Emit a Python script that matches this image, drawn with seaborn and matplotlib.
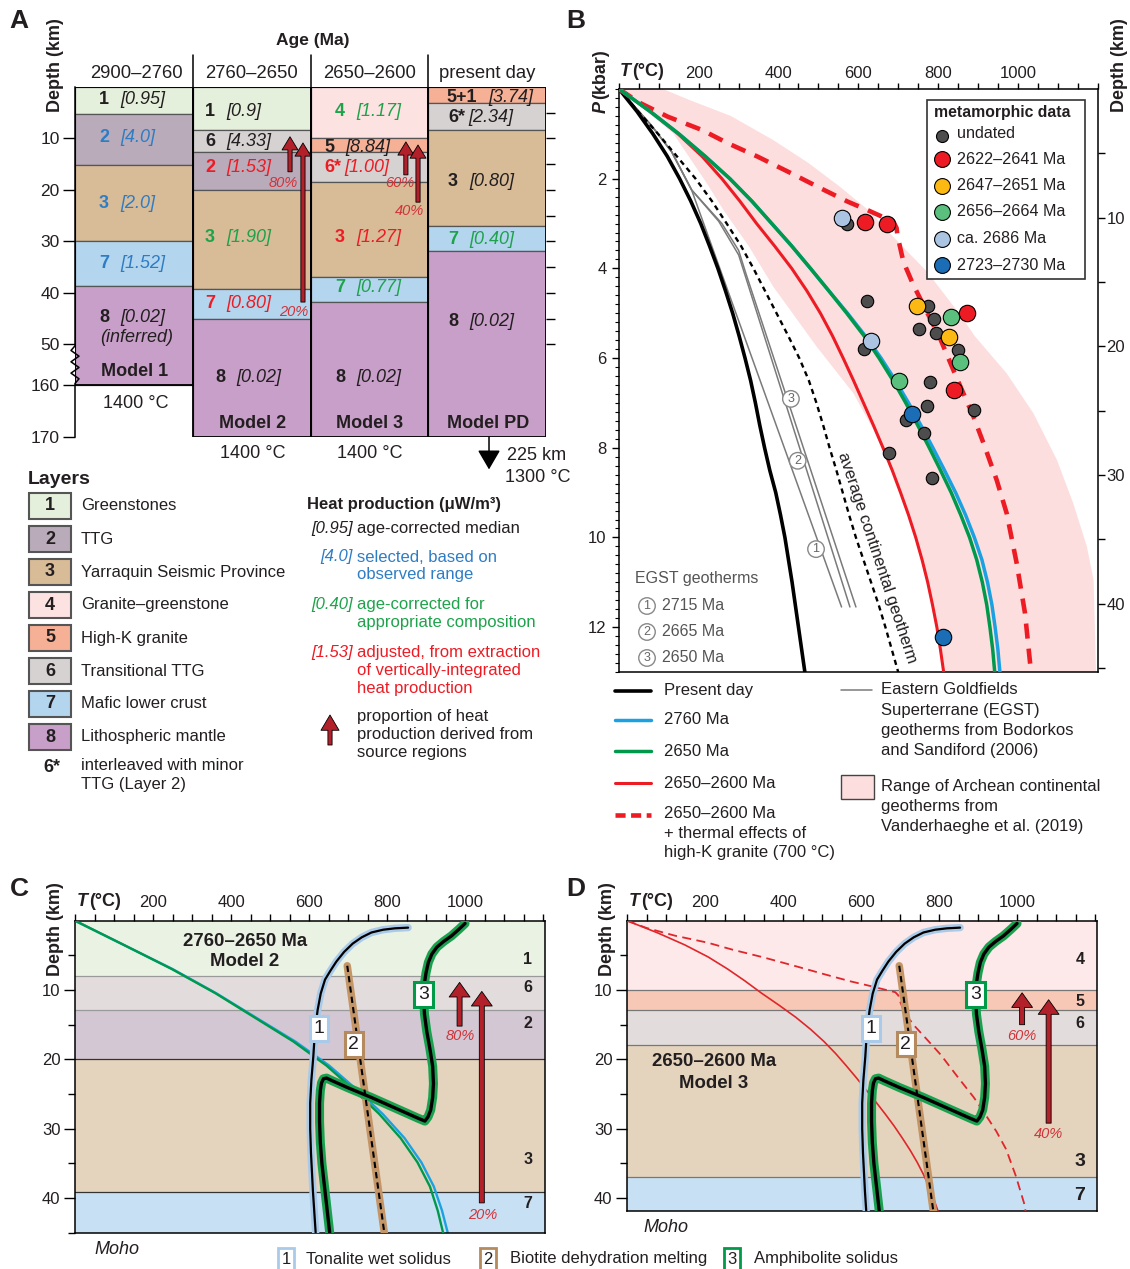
import numpy as np
import matplotlib
matplotlib.use('Agg')
import matplotlib.pyplot as plt
import matplotlib.ticker as mticker
from matplotlib.patches import Rectangle
import seaborn as sns

W, H = 1130, 1269

# ==========================================
# DATA - panel A : layer stacks (depth in km)
# ==========================================
ages = ['2900–2760', '2760–2650', '2650–2600', 'present day']
model_names = ['Model 1', 'Model 2', 'Model 3', 'Model PD']
base_temps = ['1400 °C', '1400 °C', '1400 °C']

# 58 and 68 stand for 160 and 170 km on the broken depth scale
m1_layers = [1, 2, 3, 7, 8]
m1_bottoms = [5.3, 15.2, 30.0, 38.6, 58.0]
m1_nums = ['1', '2', '3', '7', '8']
m1_heat = ['[0.95]', '[4.0]', '[2.0]', '[1.52]', '[0.02]']
m1_kind = ['med', 'sel', 'sel', 'sel', 'med']

m2_layers = [1, 6, 2, 3, 7, 8]
m2_bottoms = [8.45, 12.7, 20.0, 39.3, 45.1, 68.0]
m2_nums = ['1', '6', '2', '3', '7', '8']
m2_heat = ['[0.9]', '[4.33]', '[1.53]', '[1.90]', '[0.80]', '[0.02]']
m2_kind = ['med', 'med', 'adj', 'cor', 'adj', 'med']

m3_layers = [4, 5, 6, 3, 7, 8]
m3_bottoms = [10.0, 12.7, 18.5, 36.9, 41.8, 68.0]
m3_nums = ['4', '5', '6*', '3', '7', '8']
m3_heat = ['[1.17]', '[8.84]', '[1.00]', '[1.27]', '[0.77]', '[0.02]']
m3_kind = ['cor', 'med', 'adj', 'adj', 'cor', 'med']

pd_layers = [5, 6, 3, 7, 8]
pd_bottoms = [3.2, 8.45, 27.0, 31.9, 68.0]
pd_nums = ['5+1', '6*', '3', '7', '8']
pd_heat = ['[3.74]', '[2.34]', '[0.80]', '[0.40]', '[0.02]']
pd_kind = ['med', 'med', 'med', 'cor', 'med']

layer_ids = [1, 2, 3, 4, 5, 6, 7, 8]
layer_names = ['Greenstones', 'TTG', 'Yarraquin Seismic Province', 'Granite–greenstone',
               'High-K granite', 'Transitional TTG', 'Mafic lower crust', 'Lithospheric mantle']

# red arrows: column position, source depth, target depth (km)
arrowA_x = [1.826, 1.936, 2.81, 2.913]
arrowA_from = [16.5, 41.8, 17.1, 22.4]
arrowA_to = [9.7, 10.9, 10.7, 11.3]
arrow_pcts = ['80%', '20%', '60%', '40%']

# ==========================================
# DATA - panel B : geotherms (P in kbar, T in deg C)
# ==========================================
P_grid = [0, 0.5, 1, 1.5, 2, 2.5, 3, 3.5, 4, 4.5, 5, 5.5, 6, 6.5, 7, 7.5, 8, 8.5, 9, 9.5,
          10, 10.5, 11, 11.5, 12, 12.5, 13]
present_T = [0, 45, 85, 121, 152, 180, 205, 227, 248, 267, 285, 301, 316, 330, 342, 353, 365,
             378, 393, 405, 416, 425, 434, 442, 450, 458, 466]
g2760_T = [0, 78, 150, 216, 278, 333, 383, 433, 480, 526, 573, 617, 657, 693, 726, 757, 787,
           816, 844, 869, 891, 910, 924, 935, 943, 950, 955]
g2650_T = [0, 78, 150, 216, 278, 333, 383, 433, 480, 526, 571, 614, 652, 687, 719, 749, 778,
           806, 833, 857, 879, 897, 911, 922, 930, 937, 942]
g2600_T = [0, 78, 148, 208, 258, 303, 345, 390, 433, 471, 505, 535, 562, 588, 613, 638, 662,
           685, 706, 726, 744, 760, 774, 786, 797, 806, 814]
avg_T = [0, 48, 98, 145, 192, 233, 270, 306, 337, 366, 395, 424, 452, 476, 495, 512, 528,
         545, 561, 577, 594, 613, 632, 651, 668, 684, 700]

granite_P = [0, 0.3, 0.62, 0.91, 1.21, 1.51, 1.88, 2.22, 2.51, 2.70, 2.96, 3.1, 3.26,
             3.85, 4.37, 4.97, 5.56, 6.45, 7.31, 7.9, 8.72, 9.46, 10.57, 11.69, 13.0]
granite_T = [0, 50, 123, 207, 273, 348, 432, 507, 573, 623, 688, 696, 698,
             713, 738, 772, 805, 847, 889, 914, 947, 972, 997, 1018, 1033]

egst1_P = [0, 0.8, 1.4, 2.25, 11.55]
egst1_T = [0, 80, 132, 182, 558]
egst2_P = [0, 0.8, 1.4, 2.25, 2.95, 3.7, 11.55]
egst2_T = [0, 80, 132, 182, 250, 300, 579]
egst3_P = [0, 0.8, 1.4, 2.25, 3.0, 3.6, 4.11, 11.55]
egst3_T = [0, 80, 132, 182, 258, 300, 318, 594]
egst_ages = ['2715 Ma', '2665 Ma', '2650 Ma']

range_lo_P = [0, 0.99, 2.1, 2.7, 3.5, 4.41, 5.75, 6.79, 7.6, 8.5, 9.61, 10.95, 12, 13]
range_lo_T = [0, 136, 220, 262, 325, 387, 496, 588, 638, 685, 730, 770, 795, 812]
range_hi_P = [0, 0, 0.25, 0.6, 1.14, 1.65, 2.18, 2.7, 3.3, 4.07, 4.97, 5.52, 6.34, 7.23,
              8.27, 9.24, 10.2, 10.95, 13]
range_hi_T = [0, 110, 178, 280, 387, 475, 554, 625, 688, 772, 850, 893, 972, 1039,
              1098, 1139, 1173, 1190, 1196]

undated_T = [571, 621, 776, 790, 751, 795, 849, 614, 780, 891, 772, 720, 765, 677, 785]
undated_P = [3.02, 4.73, 4.83, 5.13, 5.35, 5.43, 5.83, 5.80, 6.53, 7.16, 7.07, 7.37, 7.66, 8.12, 8.68]
r2622_T = [617, 673, 872, 840]
r2622_P = [2.97, 3.02, 5.0, 6.71]
r2647_T = [747, 828]
r2647_P = [4.83, 5.54]
r2656_T = [832, 855, 703]
r2656_P = [5.09, 6.08, 6.51]
r2686_T = [558, 631]
r2686_P = [2.88, 5.63]
r2723_T = [734, 813]
r2723_P = [7.25, 12.21]
meta_labels = ['2622–2641 Ma', '2647–2651 Ma', '2656–2664 Ma', 'ca. 2686 Ma', '2723–2730 Ma']

KM_PER_KBAR = 3.485

# ==========================================
# DATA - panels C / D : layers, geotherms and melting curves (depth km)
# ==========================================
c_layers = [1, 6, 2, 3, 7]
c_bottoms = [7.97, 12.87, 19.97, 39.1, 45.0]
d_layers = [4, 5, 6, 3, 7]
d_bottoms = [10.0, 12.9, 17.9, 36.9, 41.9]

c2760_d = [0, 3.49, 6.97, 10.46, 13.94, 17.43, 20.91, 24.4, 27.88, 31.37, 34.85, 38.34, 41.82, 45.3]
c2760_T = [0, 125, 250, 362, 463, 565, 652, 723, 789, 845, 888, 920, 941, 957]
c2650_d = [0, 3.49, 6.97, 10.46, 13.94, 17.43, 20.91, 24.4, 27.88, 31.37, 34.85, 38.34, 41.82, 45.3]
c2650_T = [0, 125, 248, 360, 460, 560, 645, 715, 780, 835, 878, 910, 930, 945]

tonalite_T = [854, 820, 790, 760, 735, 712, 690, 670, 655, 641, 630, 622, 615, 611, 606, 603, 603, 605, 610, 617]
tonalite_d = [1.0, 1.1, 1.3, 1.7, 2.4, 3.3, 4.5, 5.9, 7.2, 8.5, 10.5, 12.9, 16.0, 19.6, 23.0, 26.3, 30.0, 33.5, 39.0, 45.0]
biotite_T = [698, 793]
biotite_d = [6.5, 45.0]
amph_T = [1000, 985, 965, 945, 928, 915, 906, 900, 896, 894, 896, 902, 910, 917, 919, 917, 912, 905, 897,
          880, 820, 760, 700, 660, 645, 637, 632, 629, 627, 627, 629, 633, 641, 653]
amph_d = [0.4, 1.2, 2.2, 3.0, 3.8, 4.8, 6.0, 7.5, 9.0, 11.0, 13.5, 16.0, 18.5, 21.0, 23.5, 25.5, 27.3, 28.3, 28.9,
          28.5, 27.0, 25.5, 24.1, 23.1, 22.7, 22.8, 23.4, 24.5, 26.3, 29.0, 32.0, 35.0, 39.0, 45.0]
solidus_names = ['Tonalite wet solidus', 'Biotite dehydration melting', 'Amphibolite solidus']

# ==========================================
# STYLE
# ==========================================
sns.set_theme(style='white')
plt.rcParams['font.family'] = ['Liberation Sans', 'DejaVu Sans']
plt.rcParams['text.color'] = '#231f20'
plt.rcParams['axes.edgecolor'] = 'black'
plt.rcParams['xtick.color'] = 'black'
plt.rcParams['ytick.color'] = 'black'
plt.rcParams['xtick.labelcolor'] = '#231f20'
plt.rcParams['ytick.labelcolor'] = '#231f20'

layer_colors = {1: '#e5f0dc', 2: '#b9abba', 3: '#d8bb97', 4: '#fde2e2',
                5: '#f6b096', 6: '#d7d2d2', 7: '#b3d5ee', 8: '#c89fc9'}
light_colors = {1: '#eaf2e4', 2: '#d3c7d3', 3: '#e4d4bd', 4: '#fde9e9',
                5: '#f8c8b6', 6: '#e2dddc', 7: '#c8e0f3'}
kind_colors = {'med': '#231f20', 'sel': '#2e7dc4', 'cor': '#1ea24b', 'adj': '#ec1c24'}
RED = '#ed1c24'
ARROW_RED = '#b2202a'
PCT_RED = '#d0343a'
BLUE_L = '#1ba1e2'
GREEN_L = '#00994c'

fig = plt.figure(figsize=(W / 100, H / 100), dpi=100)


def px_axes(x0, y0, x1, y1):
    return fig.add_axes([x0 / W, 1 - y1 / H, (x1 - x0) / W, (y1 - y0) / H])


ov = fig.add_axes([0, 0, 1, 1], zorder=20)
ov.set_xlim(0, W)
ov.set_ylim(H, 0)
ov.axis('off')


def txt(x, y, s, size=12, **kw):
    kw.setdefault('va', 'center')
    kw.setdefault('ha', 'left')
    ov.text(x, y, s, fontsize=size, **kw)


def red_arrow(ax, x, y0, y1, hw=1.15, hl=0.95, tw=0.3):
    ax.annotate('', xy=(x, y1), xytext=(x, y0), annotation_clip=False, zorder=8,
                arrowprops=dict(arrowstyle=f'simple,head_length={hl},head_width={hw},tail_width={tw}',
                                fc=ARROW_RED, ec='black', lw=0.6, shrinkA=0, shrinkB=0,
                                mutation_scale=10))


# panel letters
for lab, x, y in [('A', 19, 21), ('B', 576, 21), ('C', 19, 889), ('D', 576, 889)]:
    txt(x, y, lab, size=19, weight='bold', ha='center')

# ==========================================
# PANEL A
# ==========================================
axA = px_axes(75, 86.8, 546, 437)
axA.set_xlim(0, 4)
axA.set_ylim(68, 0)
for sp in axA.spines.values():
    sp.set_visible(False)
axA.set_xticks([])

stacks = [(m1_layers, m1_bottoms), (m2_layers, m2_bottoms),
          (m3_layers, m3_bottoms), (pd_layers, pd_bottoms)]
for i, (lay, bot) in enumerate(stacks):
    tops = [0] + bot[:-1]
    heights = np.array(bot) - np.array(tops)
    axA.bar(np.full(len(lay), i + 0.5), heights, bottom=tops, width=1.0,
            color=[layer_colors[k] for k in lay], edgecolor='#555555', linewidth=0.9, zorder=2)
    axA.bar(i + 0.5, bot[-1], bottom=0, width=1.0, fill=False,
            edgecolor='black', linewidth=1.3, zorder=3)

# broken left axis
zz_y = [0, 50.3, 51.2, 52.3, 53.4, 54.5, 55.6, 56.7, 57.6, 68]
zz_x = np.array([0, 0, -4, 4, -4, 4, -4, 4, 0, 0]) / 117.75
axA.plot(zz_x, zz_y, color='black', lw=1.1, clip_on=False, zorder=4)
axA.set_yticks([10, 20, 30, 40, 50, 58, 68])
axA.set_yticklabels(['10', '20', '30', '40', '50', '160', '170'])
axA.set_ylim(68, 0)
axA.tick_params(axis='y', left=True, direction='out', length=9, width=1, pad=2, labelsize=12.5)

axA2 = axA.twinx()
for sp in axA2.spines.values():
    sp.set_visible(False)
axA2.set_yticks([10, 20, 30, 40, 50])
axA2.set_yticks([5, 15, 25, 35, 45], minor=True)
axA2.set_yticklabels([])
axA2.set_ylim(68, 0)
axA2.tick_params(axis='y', which='both', right=True, direction='out', length=6.5, width=1)

for xs in [1, 2, 3]:
    axA.plot([xs, xs], [-6.2, 0], color='black', lw=1.1, clip_on=False)

# depth continues below present-day column
axA.annotate('', xy=(3.516, 74.3), xytext=(3.516, 68), annotation_clip=False,
             arrowprops=dict(arrowstyle='-|>,head_length=0.6,head_width=0.35', color='black',
                             lw=1.1, shrinkA=0, shrinkB=0, mutation_scale=20))

for x, y0, y1 in zip(arrowA_x, arrowA_from, arrowA_to):
    red_arrow(axA, x, y0, y1)

txt(313, 40, 'Age (Ma)', size=12.5, weight='bold', ha='center')
txt(55, 65, 'Depth (km)', size=13, weight='bold', ha='center', rotation=90)
for x, s in zip([136, 252, 370, 487], ages):
    txt(x, 73, s, size=13.3, ha='center')

lab_layout = [
    (m1_nums, m1_heat, m1_kind, [99] * 5, [100, 138, 203, 263, 317]),
    (m2_nums, m2_heat, m2_kind, [205] * 5 + [215], [112, 141, 167, 238, 303, 377]),
    (m3_nums, m3_heat, m3_kind, [335, 324, 324, 335, 335, 335], [112, 147, 167, 238, 288, 377]),
    (pd_nums, pd_heat, pd_kind, [446, 448, 448, 448, 448], [97, 118, 182, 239, 321]),
]
for nums, heat, kind, xs, ys in lab_layout:
    for n, h, k, x, y in zip(nums, heat, kind, xs, ys):
        col = kind_colors[k]
        txt(x, y, n, size=13, weight='bold', color=col)
        off = {'5+1': 42, '6*': 20}.get(n, 21)
        txt(x + off, y, h, size=13, style='italic', color=col)
txt(100, 338, '(inferred)', size=13, style='italic')
for x, y, s in zip([135, 253, 370, 488], [372, 424, 424, 424], model_names):
    txt(x, y, s, size=13, weight='bold', ha='center')
for x, y, s in zip([136, 253, 370], [403, 453, 453], base_temps):
    txt(x, y, s, size=13, ha='center')
txt(507, 455, '225 km', size=13)
txt(505, 477, '1300 °C', size=13)
for (x, y), s in zip([(283, 183), (294, 312), (400, 183), (410, 211)], arrow_pcts):
    txt(x, y, s, size=10.5, style='italic', color=PCT_RED, ha='center')

# layer legend
txt(28, 480, 'Layers', size=14, weight='bold')
for j, (lid, name) in enumerate(zip(layer_ids, layer_names)):
    yc = 506 + 33 * j
    ov.add_patch(Rectangle((29, yc - 13), 42, 26, fc=layer_colors[lid], ec='#555555', lw=1.5))
    txt(50, yc, str(lid), size=13, weight='bold', ha='center')
    txt(81, yc, name, size=12)
txt(52, 767, '6*', size=13, weight='bold', ha='center')
txt(81, 766, 'interleaved with minor', size=12)
txt(81, 785, 'TTG (Layer 2)', size=12)

# heat production legend
txt(307, 505, 'Heat production (μW/m³)', size=12, weight='bold')
hp_rows = [('[0.95]', 'med', ['age-corrected median'], 528),
           ('[4.0]', 'sel', ['selected, based on', 'observed range'], 557),
           ('[0.40]', 'cor', ['age-corrected for', 'appropriate composition'], 604),
           ('[1.53]', 'adj', ['adjusted, from extraction', 'of vertically-integrated', 'heat production'], 653)]
for br, k, lines, y in hp_rows:
    col = kind_colors[k]
    txt(353, y, br, size=12, style='italic', color=col, ha='right')
    for m, line in enumerate(lines):
        txt(357, y + 18 * m, line, size=12, color=col)
ov.annotate('', xy=(330, 715), xytext=(330, 745), annotation_clip=False,
            arrowprops=dict(arrowstyle='simple,head_length=1.1,head_width=1.3,tail_width=0.3',
                            fc=ARROW_RED, ec='black', lw=0.6, shrinkA=0, shrinkB=0, mutation_scale=10))
for m, line in enumerate(['proportion of heat', 'production derived from', 'source regions']):
    txt(357, 716 + 18 * m, line, size=12)

# ==========================================
# PANEL B
# ==========================================
axB = px_axes(619, 89, 1098, 672)
axB.fill(np.r_[range_lo_T, range_hi_T[::-1]], np.r_[range_lo_P, range_hi_P[::-1]],
         color='#fddede', lw=0, zorder=1)
for tt, pp in [(egst1_T, egst1_P), (egst2_T, egst2_P), (egst3_T, egst3_P)]:
    axB.plot(tt, pp, color='#7a7a7a', lw=1.1, zorder=2)
axB.plot(avg_T, P_grid, color='black', lw=1.7, linestyle=(0, (2.2, 1.8)), zorder=3)
sns.lineplot(x=present_T, y=P_grid, ax=axB, color='black', lw=2.6, sort=False, estimator=None, zorder=3)
axB.plot(granite_T, granite_P, color=RED, lw=3.3, linestyle=(0, (3.3, 2.2)), zorder=3)
sns.lineplot(x=g2600_T, y=P_grid, ax=axB, color=RED, lw=2.2, sort=False, estimator=None, zorder=3)
sns.lineplot(x=g2760_T, y=P_grid, ax=axB, color=BLUE_L, lw=2.5, sort=False, estimator=None, zorder=3)
sns.lineplot(x=g2650_T, y=P_grid, ax=axB, color=GREEN_L, lw=2.5, sort=False, estimator=None, zorder=4)

sns.scatterplot(x=undated_T, y=undated_P, ax=axB, s=80, color='#4d4d4d', edgecolor='black',
                linewidth=0.8, zorder=5, legend=False)
meta_sets = [(r2622_T, r2622_P, '#ed1c24'), (r2647_T, r2647_P, '#fdb913'),
             (r2656_T, r2656_P, '#5bbf7d'), (r2686_T, r2686_P, '#aac4e2'),
             (r2723_T, r2723_P, '#1b6db5')]
for tt, pp, c in meta_sets:
    sns.scatterplot(x=tt, y=pp, ax=axB, s=140, color=c, edgecolor='black',
                    linewidth=0.8, zorder=6, legend=False)

for s, (tx, px) in zip(['3', '2', '1'], [(431, 6.91), (448, 8.29), (494, 10.26)]):
    axB.text(tx, px, s, fontsize=9, color='#666666', ha='center', va='center', zorder=7,
             bbox=dict(boxstyle='circle,pad=0.18', fc='white', ec='#888888', lw=1))
axB.text(647, 10.46, 'average continental geotherm', fontsize=12, rotation=-71.6,
         rotation_mode='anchor', ha='center', va='center', zorder=7)

axB.set_xlabel('')
axB.set_ylabel('')
for sp in axB.spines.values():
    sp.set_linewidth(1.1)
axB.xaxis.set_ticks_position('top')
axB.set_xticks([200, 400, 600, 800, 1000])
axB.xaxis.set_minor_locator(mticker.MultipleLocator(50))
axB.tick_params(axis='x', which='both', top=True, bottom=False, labeltop=True, labelbottom=False,
                direction='out', length=4, width=1, pad=2, labelsize=12)
axB.set_yticks([2, 4, 6, 8, 10, 12])
axB.yaxis.set_minor_locator(mticker.MultipleLocator(0.2))
axB.tick_params(axis='y', which='major', left=True, direction='out', length=5, width=1, pad=4, labelsize=12)
axB.tick_params(axis='y', which='minor', left=True, direction='out', length=3, width=0.8)
axB.set_xlim(0, 1201)
axB.set_ylim(13, 0)

axB2 = axB.twinx()
axB2.set_yticks([10, 20, 30, 40])
axB2.set_yticks([5, 15, 25, 35, 45], minor=True)
axB2.set_ylim(13 * KM_PER_KBAR, 0)
axB2.tick_params(axis='y', which='both', right=True, direction='out', length=5, width=1, pad=1, labelsize=12)
for sp in axB2.spines.values():
    sp.set_visible(False)

txt(620, 72, 'T', size=13, weight='bold', style='italic')
txt(632, 72, '(°C)', size=13, weight='bold')
txt(601, 107, 'P', size=13, weight='bold', style='italic', rotation=90, ha='center')
txt(601, 74, '(kbar)', size=13, weight='bold', rotation=90, ha='center')
txt(1119, 65, 'Depth (km)', size=13, weight='bold', rotation=90, ha='center')

# metamorphic data legend
ov.add_patch(Rectangle((926.5, 100), 158.5, 179, fc='white', ec='#333333', lw=1.2, zorder=1))
txt(934, 113, 'metamorphic data', size=11.3, weight='bold')
ov.scatter([941.5], [135.5], s=75, color='#4d4d4d', edgecolor='black', linewidth=0.8, zorder=3)
txt(957, 134, 'undated', size=11.6)
for j, ((_, _, c), lab) in enumerate(zip(meta_sets, meta_labels)):
    yy = 159 + 26.5 * j
    ov.scatter([941.5], [yy], s=130, color=c, edgecolor='black', linewidth=0.8, zorder=3)
    txt(957, yy, lab, size=11.6)

# EGST key
txt(635, 579, 'EGST geotherms', size=11.5, color='#555555')
for j, (s, lab) in enumerate(zip(['1', '2', '3'], egst_ages)):
    yy = 606 + 26 * j
    ov.text(647, yy, s, fontsize=9, color='#666666', ha='center', va='center',
            bbox=dict(boxstyle='circle,pad=0.18', fc='white', ec='#888888', lw=1))
    txt(662, yy, lab, size=11.5, color='#555555')

# legend under panel B
key_rows = [('Present day', 'black', 2.6, 691), ('2760 Ma', BLUE_L, 2.5, 720),
            ('2650 Ma', GREEN_L, 2.5, 751), ('2650–2600 Ma', RED, 2.2, 783)]
for lab, c, lw, yy in key_rows:
    ov.plot([615, 651], [yy, yy], color=c, lw=lw, solid_capstyle='round')
    txt(664, yy, lab, size=12)
ov.plot([615, 651], [815, 815], color=RED, lw=3.3, linestyle=(0, (2.2, 1.2)))
txt(664, 814, '2650–2600 Ma', size=12)
txt(664, 833, '+ thermal effects of', size=12)
txt(664, 852, 'high-K granite (700 °C)', size=12)
ov.plot([841, 872], [690, 690], color='#7a7a7a', lw=1.1)
for m, line in enumerate(['Eastern Goldfields', 'Superterrane (EGST)',
                          'geotherms from Bodorkos', 'and Sandiford (2006)']):
    txt(881, 690 + 20 * m, line, size=12)
ov.add_patch(Rectangle((841, 775), 33, 24, fc='#fddede', ec='#444444', lw=1))
for m, line in enumerate(['Range of Archean continental', 'geotherms from',
                          'Vanderhaeghe et al. (2019)']):
    txt(881, 787 + 20 * m, line, size=12)


# ==========================================
# PANELS C and D
# ==========================================
def melting_curves(ax):
    ax.plot(tonalite_T, tonalite_d, color='#a9cbe9', lw=5.3, zorder=4, solid_capstyle='round')
    ax.plot(tonalite_T, tonalite_d, color='black', lw=1.6, zorder=5)
    ax.plot(biotite_T, biotite_d, color='#c49667', lw=5.4, zorder=4)
    ax.plot(biotite_T, biotite_d, color='black', lw=1.5, linestyle=(0, (3, 2)), zorder=5)
    ax.plot(amph_T, amph_d, color='#1aa150', lw=6.5, zorder=4, solid_capstyle='round')
    ax.plot(amph_T, amph_d, color='black', lw=2.4, zorder=5)
    for s, ec, (tx, dd) in zip(['1', '2', '3'], ['#a9cbe9', '#b48a5e', '#009a49'],
                               [(626, 15.6), (715, 17.8), (893, 10.6)]):
        ax.text(tx, dd, s, fontsize=14, ha='center', va='center', zorder=7,
                bbox=dict(boxstyle='square,pad=0.2', fc='white', ec=ec, lw=2.2))


def depth_axes(ax, dmax, layers, bottoms, line_cols, minors):
    tops = [0] + bottoms[:-1]
    for lid, t, b in zip(layers, tops, bottoms):
        ax.axhspan(t, b, color=light_colors[lid], lw=0, zorder=0)
    for b, c in zip(bottoms[:-1], line_cols):
        ax.axhline(b, color=c, lw=0.9, zorder=1)
    ax.set_xlabel('')
    ax.set_ylabel('')
    for sp in ax.spines.values():
        sp.set_linewidth(1.1)
    ax.xaxis.set_ticks_position('top')
    ax.set_xticks([200, 400, 600, 800, 1000])
    ax.xaxis.set_minor_locator(mticker.MultipleLocator(50))
    ax.tick_params(axis='x', which='both', top=True, bottom=False, labeltop=True, labelbottom=False,
                   direction='out', length=5, width=1, pad=3, labelsize=12)
    ax.set_yticks([10, 20, 30, 40])
    ax.set_yticks(minors, minor=True)
    ax.tick_params(axis='y', which='major', left=True, direction='out', length=8, width=1, pad=2.5, labelsize=12)
    ax.tick_params(axis='y', which='minor', left=True, direction='out', length=5, width=1)
    ax.set_xlim(0, 1205)
    ax.set_ylim(dmax, 0)


axC = px_axes(75, 920.7, 545, 1232.7)
sns.lineplot(x=c2760_T, y=c2760_d, ax=axC, color=BLUE_L, lw=1.7, sort=False, estimator=None, zorder=2)
sns.lineplot(x=c2650_T, y=c2650_d, ax=axC, color=GREEN_L, lw=1.7, sort=False, estimator=None, zorder=3)
melting_curves(axC)
depth_axes(axC, 45.0, c_layers, c_bottoms, ['#9a9a9a', '#9a9a9a', '#333333', '#333333'],
           [5, 15, 25, 35, 45])
red_arrow(axC, 986, 15.2, 8.9, hw=1.5, hl=1.05, tw=0.36)
red_arrow(axC, 1043, 40.7, 10.2, hw=1.5, hl=1.05, tw=0.36)

axD = px_axes(627, 920.7, 1097, 1211.2)
sns.lineplot(x=g2600_T, y=np.array(P_grid) * KM_PER_KBAR, ax=axD, color='#e0262b', lw=1.2,
             sort=False, estimator=None, zorder=3)
axD.plot(granite_T, np.array(granite_P) * KM_PER_KBAR, color='#e0262b', lw=1.3,
         linestyle=(0, (5, 3)), zorder=3)
melting_curves(axD)
depth_axes(axD, 41.9, d_layers, d_bottoms, ['#777777'] * 4, [5, 15, 25, 35])
red_arrow(axD, 1013, 15.0, 10.4, hw=1.5, hl=1.05, tw=0.36)
red_arrow(axD, 1081, 29.2, 11.4, hw=1.5, hl=1.05, tw=0.36)

for x0 in [75, 627]:
    txt(x0 + 2, 901, 'T', size=13, weight='bold', style='italic')
    txt(x0 + 14, 901, '(°C)', size=13, weight='bold')
txt(55, 929, 'Depth (km)', size=13, weight='bold', rotation=90, ha='center')
txt(607, 929, 'Depth (km)', size=13, weight='bold', rotation=90, ha='center')

txt(245, 941, '2760–2650 Ma', size=13.4, weight='bold', ha='center')
txt(245, 962, 'Model 2', size=13.4, weight='bold', ha='center')
txt(714, 1062, '2650–2600 Ma', size=13.4, weight='bold', ha='center')
txt(714, 1083, 'Model 3', size=13.4, weight='bold', ha='center')

for s, y in zip(['1', '6', '2', '3', '7'], [959, 988, 1023, 1159, 1203]):
    txt(528, y, s, size=11.5, weight='bold', ha='center')
for s, y, fs in zip(['4', '5', '6', '3', '7'], [960, 1002, 1023, 1162, 1195], [11.5, 11.5, 11.5, 14, 14]):
    txt(1080, y, s, size=fs, weight='bold', ha='center')

for (x, y), s in zip([(460, 1036), (483, 1215), (1022, 1036), (1049, 1134)], arrow_pcts):
    txt(x, y, s, size=10.5, style='italic', color=PCT_RED, ha='center')

txt(117, 1249, 'Moho', size=13, style='italic', ha='center')
txt(666, 1227, 'Moho', size=13, style='italic', ha='center')

for s, ec, xb, xt, name in zip(['1', '2', '3'], ['#a9cbe9', '#b48a5e', '#009a49'],
                               [286, 488, 732], [306, 510, 754], solidus_names):
    ov.text(xb, 1259, s, fontsize=12, ha='center', va='center',
            bbox=dict(boxstyle='square,pad=0.2', fc='white', ec=ec, lw=2))
    txt(xt, 1259, name, size=12)

fig.savefig('out.png', dpi=100)
